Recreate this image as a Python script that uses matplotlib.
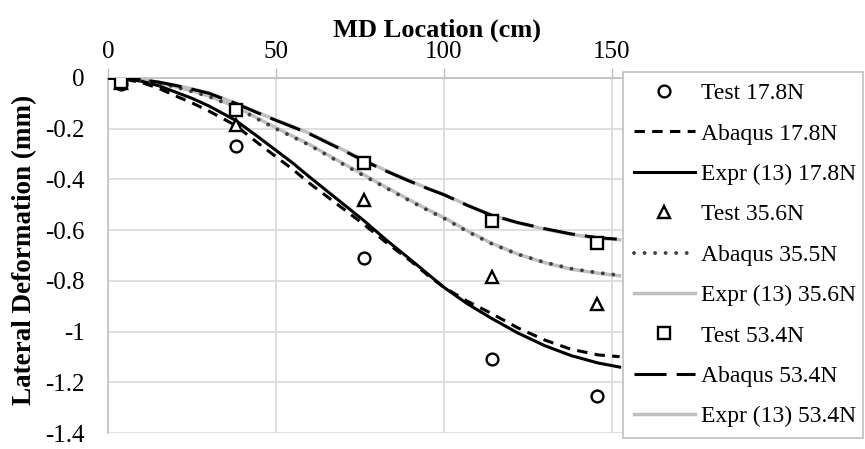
import matplotlib
matplotlib.use("Agg")
import matplotlib.pyplot as plt

plt.rcParams['font.family'] = ['Liberation Serif', 'DejaVu Serif']

# ---- data ----
test_x = [3.9, 38.2, 76.3, 114.5, 145.8]
test_17_8 = [-0.025, -0.27, -0.71, -1.11, -1.254]
test_35_6 = [-0.02, -0.185, -0.48, -0.785, -0.89]
test_53_4 = [-0.015, -0.127, -0.336, -0.563, -0.652]

curve_x = [0, 5, 10, 15, 20, 25, 30, 38, 45, 50, 55, 60, 68, 76, 83, 90, 95, 100,
           107, 114, 122, 130, 138, 146, 152.4]
abaqus_17_8 = [0, -0.005, -0.018, -0.04, -0.07, -0.098, -0.13, -0.187, -0.26, -0.31, -0.36,
               -0.415, -0.495, -0.575, -0.65, -0.72, -0.775, -0.825, -0.88, -0.927, -0.985,
               -1.033, -1.07, -1.092, -1.099]
expr_17_8 = [0, -0.003, -0.013, -0.03, -0.055, -0.08, -0.11, -0.167, -0.235, -0.285, -0.335,
             -0.39, -0.475, -0.56, -0.64, -0.715, -0.77, -0.825, -0.89, -0.946, -1.005,
             -1.055, -1.095, -1.124, -1.14]
abaqus_35_5 = [0, -0.002, -0.008, -0.02, -0.035, -0.053, -0.073, -0.115, -0.165, -0.2, -0.232,
               -0.265, -0.325, -0.384, -0.435, -0.485, -0.52, -0.553, -0.605, -0.652, -0.695,
               -0.727, -0.752, -0.768, -0.778]
expr_35_6 = [0, -0.002, -0.008, -0.019, -0.034, -0.051, -0.071, -0.112, -0.162, -0.196, -0.229,
             -0.262, -0.322, -0.38, -0.432, -0.482, -0.517, -0.55, -0.602, -0.65, -0.694,
             -0.728, -0.754, -0.77, -0.78]
abaqus_53_4 = [0, -0.002, -0.007, -0.016, -0.029, -0.044, -0.06, -0.1, -0.14, -0.167, -0.193,
               -0.22, -0.272, -0.325, -0.368, -0.408, -0.435, -0.46, -0.502, -0.54, -0.57,
               -0.594, -0.615, -0.63, -0.636]
expr_53_4 = [0, -0.002, -0.007, -0.016, -0.029, -0.043, -0.059, -0.099, -0.138, -0.165, -0.191,
             -0.218, -0.27, -0.322, -0.366, -0.406, -0.434, -0.459, -0.501, -0.54, -0.571,
             -0.596, -0.617, -0.632, -0.638]

x_ticks = [0, 50, 100, 150]
y_ticks = [0, -0.2, -0.4, -0.6, -0.8, -1, -1.2, -1.4]
y_tick_labels = ['0', '-0.2', '-0.4', '-0.6', '-0.8', '-1', '-1.2', '-1.4']

W, H = 865, 449
fig = plt.figure(figsize=(W / 100, H / 100), dpi=100)
ax_left, ax_right, ax_top, ax_bottom = 108, 766, 78, 433
ax = fig.add_axes([ax_left / W, 1 - ax_bottom / H, (ax_right - ax_left) / W, (ax_bottom - ax_top) / H])

FS_TICK = 18
FS_TITLE = 19
FS_LEG = 17
GRAY = '#bfbfbf'
GRID = '#d9d9d9'
lw = 2.2
mk = dict(linestyle='none', markersize=8.5, markerfacecolor='white',
          markeredgecolor='black', markeredgewidth=1.7, zorder=6)

h1, = ax.plot(test_x, test_17_8, marker='o', label='Test 17.8N', **mk)
h2, = ax.plot(curve_x, abaqus_17_8, color='black', lw=lw, linestyle=(0, (3.4, 2.4)), zorder=4, label='Abaqus 17.8N')
h3, = ax.plot(curve_x, expr_17_8, color='black', lw=lw, zorder=4, label='Expr (13) 17.8N')
h4, = ax.plot(test_x, test_35_6, marker='^', label='Test 35.6N', **mk)
h5, = ax.plot(curve_x, abaqus_35_5, color='#404040', lw=2.8, linestyle=(0, (0.01, 2.7)),
              dash_capstyle='round', zorder=4, label='Abaqus 35.5N')
h6, = ax.plot(curve_x, expr_35_6, color=GRAY, lw=2.5, zorder=3, label='Expr (13) 35.6N')
h7, = ax.plot(test_x, test_53_4, marker='s', label='Test 53.4N', **mk)
h8, = ax.plot(curve_x, abaqus_53_4, color='black', lw=lw, linestyle=(0, (10.5, 3.3)), zorder=4, label='Abaqus 53.4N')
h9, = ax.plot(curve_x, expr_53_4, color=GRAY, lw=2.5, zorder=3, label='Expr (13) 53.4N')

ax.set_xlim(0, 196)
ax.set_ylim(-1.4, 0)
ax.set_xticks(x_ticks)
ax.set_xticklabels([str(v) for v in x_ticks])
ax.set_yticks(y_ticks)
ax.set_yticklabels(y_tick_labels)
ax.xaxis.tick_top()
ax.tick_params(axis='x', which='both', top=True, bottom=False, length=7, width=1, color=GRAY,
               labelsize=FS_TICK, pad=4, direction='out')
ax.tick_params(axis='y', length=0, labelsize=FS_TICK, pad=17)
ax.grid(True, color=GRID, lw=1.2)
ax.set_axisbelow(True)
for s in ['bottom', 'right']:
    ax.spines[s].set_visible(False)
for s in ['top', 'left']:
    ax.spines[s].set_color(GRAY)
    ax.spines[s].set_linewidth(1.2)

ax.xaxis.set_label_position('top')
ax.set_xlabel('MD Location (cm)', fontsize=FS_TITLE, fontweight='bold')
ax.xaxis.set_label_coords(0.5, 1 + (ax_top - 37) / (ax_bottom - ax_top))
ax.set_ylabel('Lateral Deformation (mm)', fontsize=19.5, fontweight='bold')
ax.yaxis.set_label_coords((37 - ax_left) / (ax_right - ax_left), (ax_bottom - 250) / (ax_bottom - ax_top))
ax.yaxis.label.set_verticalalignment('bottom')

handles = [h1, h2, h3, h4, h5, h6, h7, h8, h9]
lx0, lx1, ly0, ly1 = 623, 863, 72, 435
leg = fig.legend(handles=handles, labels=[h.get_label() for h in handles],
                 loc='upper left', bbox_to_anchor=(lx0 / W, 1 - ly1 / H, (lx1 - lx0) / W, (ly1 - ly0) / H),
                 bbox_transform=fig.transFigure, mode='expand',
                 fontsize=FS_LEG, frameon=True, fancybox=False, edgecolor=GRAY, framealpha=1,
                 handlelength=2.6, handletextpad=0.25, labelspacing=0.8, borderaxespad=0,
                 borderpad=0.45, numpoints=1)
leg.get_frame().set_linewidth(1.2)
leg.set_zorder(10)

fig.savefig('out.png', dpi=100)
